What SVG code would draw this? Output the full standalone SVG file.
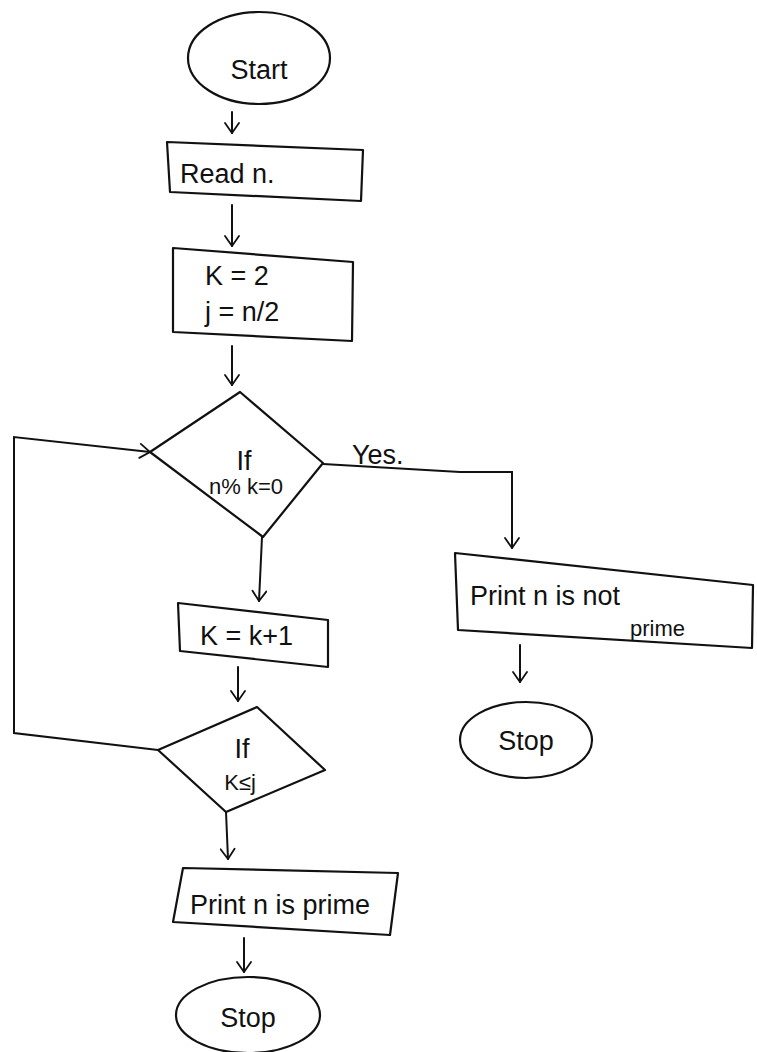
<svg xmlns="http://www.w3.org/2000/svg" width="757" height="1052" viewBox="0 0 757 1052">
<defs>
<marker id="ar" viewBox="0 0 14 16" refX="13" refY="8" markerWidth="14" markerHeight="16" markerUnits="userSpaceOnUse" orient="auto">
<path d="M3,1 L13,8 L3,15" fill="none" stroke="#111" stroke-width="1.8" stroke-linecap="round"/>
</marker>
</defs>
<style>
.s{fill:none;stroke:#111;stroke-width:2.2;stroke-linejoin:round;stroke-linecap:round}
.c{fill:none;stroke:#111;stroke-width:2;stroke-linecap:round}
.t{font-family:"Liberation Sans",Arial,sans-serif;font-size:27px;fill:#111}
.m{font-family:"Liberation Sans",Arial,sans-serif;font-size:22px;fill:#111}
</style>
<rect width="757" height="1052" fill="#fff"/>
<g id="connectors">
<path class="c" d="M232,112 L232,133" marker-end="url(#ar)"/>
<path class="c" d="M232,205 L232,246" marker-end="url(#ar)"/>
<path class="c" d="M232,346 L232,385" marker-end="url(#ar)"/>
<path class="c" d="M262,537 L259,601" marker-end="url(#ar)"/>
<path class="c" d="M238,667 L238,701" marker-end="url(#ar)"/>
<path class="c" d="M226,812 L228,859" marker-end="url(#ar)"/>
<path class="c" d="M244,938 L244,972" marker-end="url(#ar)"/>
<path class="c" d="M323,464 L460,472 L512,472 L512,548" marker-end="url(#ar)"/>
<path class="c" d="M520,645 L520,682" marker-end="url(#ar)"/>
<path class="c" d="M158,750 L14,733 L14,437 L150,452" marker-end="url(#ar)"/>
<text class="t" x="352" y="464">Yes.</text>
</g>
<g id="start">
<ellipse class="s" cx="259" cy="58" rx="71" ry="46"/>
<text class="t" x="259" y="79" text-anchor="middle">Start</text>
</g>
<g id="read">
<polygon class="s" points="167,142 363,150 361,201 170,192"/>
<text class="t" x="180" y="183">Read n.</text>
</g>
<g id="init">
<polygon class="s" points="173,248 353,262 352,341 173,332"/>
<text class="t" x="205" y="285">K = 2</text>
<text class="t" x="205" y="321">j = n/2</text>
</g>
<g id="cond1">
<polygon class="s" points="240,392 323,463 263,537 150,452"/>
<text class="t" x="244" y="470" text-anchor="middle">If</text>
<text class="m" x="246" y="494" text-anchor="middle">n% k=0</text>
</g>
<g id="inc">
<polygon class="s" points="178,603 328,620 328,667 180,651"/>
<text class="t" x="200" y="645">K = k+1</text>
</g>
<g id="cond2">
<polygon class="s" points="257,707 325,770 226,812 158,750"/>
<text class="t" x="242" y="758" text-anchor="middle">If</text>
<text class="m" x="240" y="790" text-anchor="middle">K≤j</text>
</g>
<g id="notprime">
<polygon class="s" points="455,553 753,585 752,648 458,630"/>
<text class="t" x="470" y="605">Print n is not</text>
<text class="m" x="630" y="636">prime</text>
</g>
<g id="stop1">
<ellipse class="s" cx="526" cy="740" rx="66" ry="38"/>
<text class="t" x="526" y="750" text-anchor="middle">Stop</text>
</g>
<g id="prime">
<polygon class="s" points="183,868 398,873 390,935 173,922"/>
<text class="t" x="190" y="914">Print n is prime</text>
</g>
<g id="stop2">
<ellipse class="s" cx="248" cy="1015" rx="72" ry="38"/>
<text class="t" x="248" y="1027" text-anchor="middle">Stop</text>
</g>
</svg>
